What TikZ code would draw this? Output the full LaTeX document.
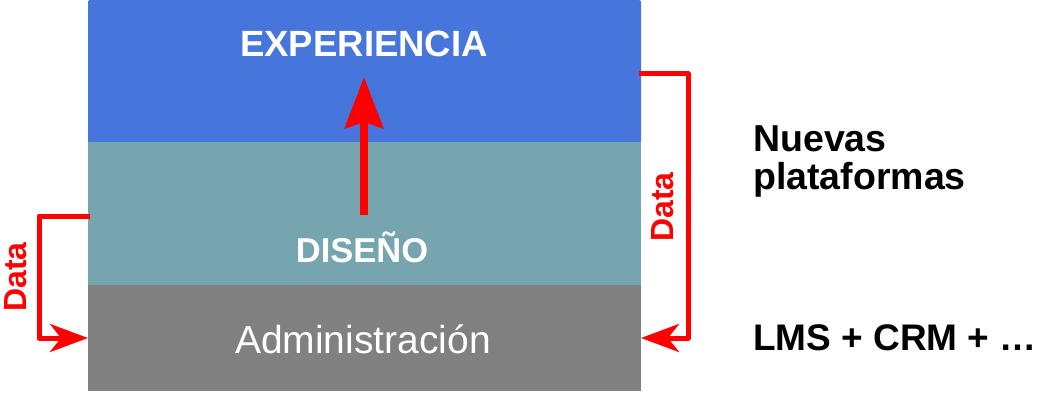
\documentclass[tikz,border=0pt]{standalone}
\usepackage{fontspec}
\setmainfont{Liberation Sans}
\usetikzlibrary{arrows.meta}
\definecolor{cexp}{RGB}{70,117,219}
\definecolor{cdis}{RGB}{118,165,175}
\definecolor{cadm}{RGB}{128,128,128}
\definecolor{cred}{RGB}{255,0,0}
\tikzset{
  layer/.style={draw=none, inner sep=0pt, outer sep=0pt, minimum width=553pt},
  wtxt/.style={text=white, inner sep=0pt, anchor=base},
  btxt/.style={text=black, inner sep=0pt, anchor=base west, font=\fontsize{37.5}{37.5}\selectfont\bfseries},
  datalbl/.style={text=cred, inner sep=0pt, anchor=base, rotate=90, font=\fontsize{32}{32}\selectfont\bfseries},
  conn/.style={draw=cred, line width=5pt, line join=round, -{Stealth[length=38pt, width=28pt, inset=11pt]}},
  bigarrow/.style={draw=cred, line width=8pt, -{Stealth[length=51pt, width=38pt, inset=6pt]}}
}
\begin{document}
\begin{tikzpicture}[x=1pt, y=-1pt]
\useasboundingbox (0,0) rectangle (1041,393);
% layers
\node[layer, fill=cexp, minimum height=143pt, rounded corners=2pt] (exp) at (364.5,71.5) {};
\node[layer, fill=cdis, minimum height=143pt] (dis) at (364.5,213.5) {};
\node[layer, fill=cadm, minimum height=106pt] (adm) at (364.5,338) {};
% texts
\node[wtxt, font=\fontsize{36.5}{36.5}\selectfont\bfseries] (texp) at (364,57) {EXPERIENCIA};
\node[wtxt, font=\fontsize{34.5}{35}\selectfont\bfseries] (tdis) at (362,262) {DISEÑO};
\node[wtxt, font=\fontsize{39}{39}\selectfont] (tadm) at (363,353) {Administración};
\node[btxt] (nuevas) at (753,152) {Nuevas};
\node[btxt] (plat) at (753,189) {plataformas};
\node[btxt, font=\fontsize{37}{37}\selectfont\bfseries] (lms) at (753,350) {LMS + CRM + …};
% central arrow
\coordinate (cbot) at (364,215);
\coordinate (ctop) at (364,77);
\draw[bigarrow] (cbot) -- (ctop);
% side connectors
\draw[conn] (dis.west) ++(2,2.5) coordinate (ls) -- ++(-51,0) |- (adm.west);
\draw[conn] (exp.east) ++(-2,2.5) coordinate (rs) -- ++(49,0) |- (adm.east);
\node[datalbl] (dl) at (27,277) {Data};
\node[datalbl] (dr) at (673,207) {Data};
\end{tikzpicture}
\end{document}
